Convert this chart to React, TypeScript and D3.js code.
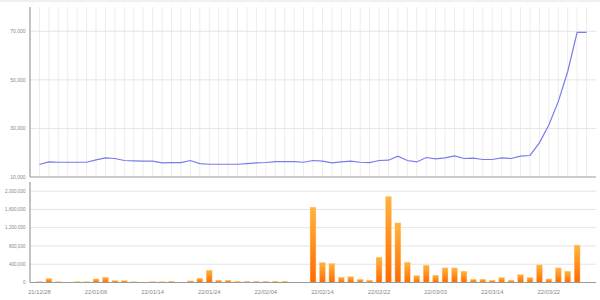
import React from "react";
import * as d3 from "d3";

const dates: string[] = [
  "21/12/28","21/12/29","21/12/30","22/01/03","22/01/04","22/01/05","22/01/06","22/01/07","22/01/10","22/01/11",
  "22/01/12","22/01/13","22/01/14","22/01/17","22/01/18","22/01/19","22/01/20","22/01/21","22/01/24","22/01/25",
  "22/01/26","22/01/27","22/01/28","22/02/03","22/02/04","22/02/07","22/02/08","22/02/09","22/02/10","22/02/11",
  "22/02/14","22/02/15","22/02/16","22/02/17","22/02/18","22/02/21","22/02/22","22/02/23","22/02/24","22/02/25",
  "22/02/28","22/03/02","22/03/03","22/03/04","22/03/07","22/03/08","22/03/10","22/03/11","22/03/14","22/03/15",
  "22/03/16","22/03/17","22/03/18","22/03/21","22/03/22","22/03/23","22/03/24","22/03/25","22/03/28",
];

const prices: number[] = [
  15130, 16200, 16080, 16080, 16080, 16080, 17030, 17860, 17610, 16790,
  16620, 16500, 16500, 15790, 15960, 15960, 16790, 15540, 15260, 15260,
  15260, 15260, 15540, 15790, 15960, 16370, 16370, 16370, 16080, 16790,
  16500, 15790, 16200, 16500, 16080, 15960, 16790, 16910, 18570, 16790,
  16200, 18030, 17450, 17860, 18690, 17610, 17740, 17200, 17200, 17860,
  17610, 18570, 18860, 24070, 31390, 41040, 53450, 69590, 69590,
];

const volumes: number[] = [
  22000, 88000, 22000, 7000, 22000, 22000, 79000, 116000, 44000, 44000,
  22000, 7000, 22000, 22000, 28000, 7000, 36000, 94000, 270000, 51000,
  51000, 28000, 28000, 28000, 28000, 28000, 28000, 7000, 7000, 1649000,
  438000, 416000, 116000, 131000, 72000, 51000, 554000, 1883000, 1305000, 445000,
  153000, 379000, 160000, 320000, 320000, 248000, 72000, 72000, 51000, 110000,
  51000, 175000, 110000, 385000, 79000, 320000, 248000, 817000, 0,
];

const priceTicks: number[] = [10000, 30000, 50000, 70000];
const priceGrid: number[] = [30000, 50000, 70000];
const volumeTicks: number[] = [0, 400000, 800000, 1200000, 1600000, 2000000];

const W = 600;
const H = 300;
const LEFT = 30;
const RIGHT = 596;
const FONT = "'Liberation Sans', Arial, sans-serif";

export default function App() {
  const idx = dates.map((_, i) => i);
  const x = d3.scalePoint<number>().domain(idx).range([LEFT, RIGHT]).padding(1);
  const step = x.step();
  const yP = d3.scaleLinear().domain([10000, 80000]).range([177, 7]);
  const yV = d3.scaleLinear().domain([0, 2200000]).range([282.5, 182]);
  const fmt = d3.format(",");

  const line = d3
    .line<number>()
    .x((_, i) => x(i) as number)
    .y((d) => yP(d))
    .curve(d3.curveLinear);

  const barW = step * 0.62;

  return (
    <svg
      width={W}
      height={H}
      style={{ position: "absolute", left: 0, top: 0, background: "#fff" }}
      fontFamily={FONT}
    >
      <defs>
        <linearGradient id="barGrad" x1="0" y1="0" x2="0" y2="1">
          <stop offset="0%" stopColor="#ffb43e" />
          <stop offset="100%" stopColor="#ff6a00" />
        </linearGradient>
      </defs>
      <rect x={0} y={0} width={W} height={H} fill="#fff" />
      <line x1={0} x2={W} y1={1} y2={1} stroke="#f0f0f0" strokeWidth={2} />

      {/* top chart vertical grid */}
      {idx.map((i) => (
        <line key={"vg" + i} x1={x(i)} x2={x(i)} y1={7} y2={177} stroke="#ececec" strokeWidth={1} />
      ))}
      {priceGrid.map((v) => (
        <line key={"hg" + v} x1={LEFT} x2={RIGHT} y1={yP(v)} y2={yP(v)} stroke="#e4e4e4" strokeWidth={1} />
      ))}
      <path d={line(prices) || ""} fill="none" stroke="#7a7af0" strokeWidth={1.2} />
      <line x1={LEFT} x2={LEFT} y1={7} y2={177} stroke="#9a9a9a" strokeWidth={1.2} />
      <line x1={LEFT} x2={RIGHT} y1={177} y2={177} stroke="#9a9a9a" strokeWidth={1.2} />
      {priceTicks.map((v) => (
        <text key={"pt" + v} x={25.5} y={yP(v)} dy="0.35em" textAnchor="end" fontSize={5} fill="#888">
          {fmt(v)}
        </text>
      ))}

      {/* bottom chart */}
      {volumeTicks.slice(1).map((v) => (
        <line key={"vgl" + v} x1={LEFT} x2={RIGHT} y1={yV(v)} y2={yV(v)} stroke="#e4e4e4" strokeWidth={1} />
      ))}
      {volumes.map((v, i) =>
        v > 0 ? (
          <rect
            key={"b" + i}
            x={(x(i) as number) - barW / 2}
            y={yV(v)}
            width={barW}
            height={yV(0) - yV(v)}
            fill="url(#barGrad)"
            stroke="#ffcf8a"
            strokeOpacity={0.6}
            strokeWidth={0.6}
          />
        ) : null
      )}
      <line x1={LEFT} x2={LEFT} y1={182} y2={282.5} stroke="#9a9a9a" strokeWidth={1.2} />
      <line x1={LEFT} x2={RIGHT} y1={282.5} y2={282.5} stroke="#9a9a9a" strokeWidth={1.2} />
      {volumeTicks.map((v) => (
        <text key={"vt" + v} x={25.5} y={yV(v)} dy="0.35em" textAnchor="end" fontSize={4.6} fill="#888">
          {fmt(v)}
        </text>
      ))}
      {idx
        .filter((i) => i % 6 === 0)
        .map((i) => (
          <text key={"xl" + i} x={x(i)} y={291.5} dy="0.35em" textAnchor="middle" fontSize={5.8} fill="#888">
            {dates[i]}
          </text>
        ))}
    </svg>
  );
}
